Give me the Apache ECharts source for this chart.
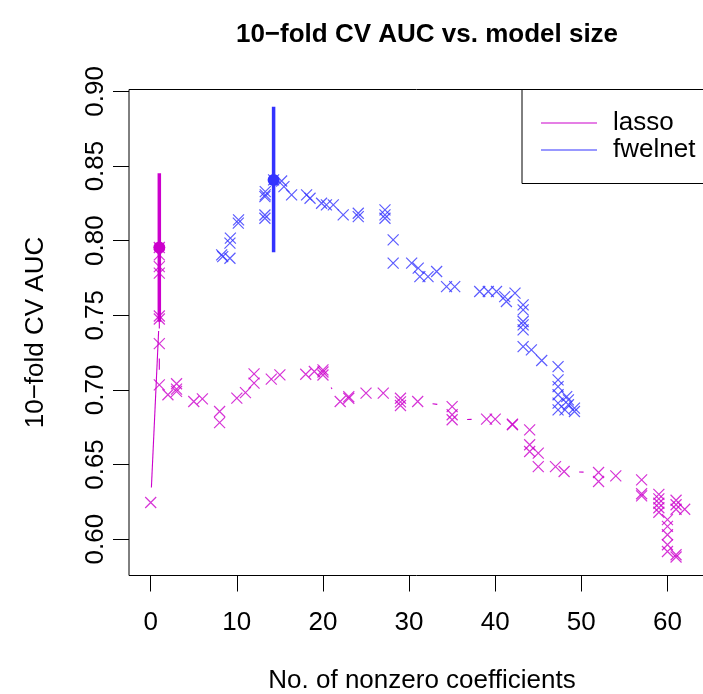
<!DOCTYPE html>
<html>
<head>
<meta charset="utf-8">
<script src="https://cdn.jsdelivr.net/npm/echarts@6/dist/echarts.min.js"></script>
<style>html,body{margin:0;padding:0;background:#fff}#c{width:703px;height:694px}</style>
</head>
<body>
<div id="c"></div>
<script>
const xTicks = [0, 10, 20, 30, 40, 50, 60];
const yTicks = [0.60, 0.65, 0.70, 0.75, 0.80, 0.85, 0.90];

const lassoX = [0, 1, 1, 1, 1, 1, 1, 1, 1, 2, 3, 3, 3, 5, 6, 8, 8, 10, 11, 12, 12, 14, 15, 18, 19, 20, 20, 20,
  22, 23, 23, 25, 27, 29, 29, 29, 31, 35, 35, 35, 39, 40, 42, 42, 44, 44, 44, 45, 45, 47, 48, 52, 52, 54, 57, 57, 57,
  59, 59, 59, 59, 59, 61, 61, 61, 62, 60, 60, 60, 60, 60, 61, 61];
const lassoY = [0.6245, 0.7495, 0.7475, 0.7782, 0.7826, 0.7905, 0.7954, 0.7310, 0.7034, 0.6967, 0.7041, 0.7005, 0.6990,
  0.6922, 0.6940, 0.6855, 0.6781, 0.6945, 0.6982, 0.7045, 0.7107, 0.7072, 0.7101, 0.7105, 0.7123, 0.7134, 0.7120, 0.7100,
  0.6922, 0.6955, 0.6944, 0.6978, 0.6978, 0.6944, 0.6920, 0.6895, 0.6922, 0.6888, 0.6833, 0.6800, 0.6804, 0.6804,
  0.6770, 0.6766, 0.6732, 0.6632, 0.6587, 0.6576, 0.6486, 0.6486, 0.6453, 0.6446, 0.6386, 0.6424, 0.6397, 0.6304, 0.6290,
  0.6300, 0.6270, 0.6240, 0.6210, 0.6180, 0.6260, 0.6230, 0.6200, 0.6200, 0.6130, 0.6085, 0.6029, 0.5962, 0.5917, 0.5895, 0.5880];

const fwelnetX = [8.24, 8.36, 9.2, 9.2, 9.25, 10.17, 10.2, 13.26, 13.26, 13.26, 13.3, 13.3, 14.27, 15.2, 15.47, 16.36,
  18.1, 18.5, 19.84, 20.4, 21.2, 22.35, 24.1, 24.1, 27.2, 27.2, 27.2, 28.15, 28.15, 30.3, 31.06, 31.25, 32.2, 33.2,
  34.35, 35.3, 38.2, 39.2, 40.15, 41.1, 41.3, 42.3, 43.24, 43.24, 43.24, 43.24, 43.24, 43.24, 44.2, 45.4,
  47.3, 47.3, 47.3, 47.3, 47.3, 47.3, 48.1, 48.3, 48.5, 48.5, 49.2, 49.2];
const fwelnetY = [0.7905, 0.7893, 0.7882, 0.7983, 0.8017, 0.8117, 0.8139, 0.8150, 0.8172, 0.8295, 0.8307, 0.8329,
  0.8407, 0.8400, 0.8362, 0.8307, 0.8307, 0.8284, 0.8251, 0.8240, 0.8240, 0.8173, 0.8184, 0.8161, 0.8206, 0.8173, 0.8150,
  0.8005, 0.7849, 0.7849, 0.7816, 0.7759, 0.7759, 0.7793, 0.7692, 0.7692, 0.7659, 0.7659, 0.7659, 0.7625, 0.7592, 0.7648,
  0.7570, 0.7536, 0.7458, 0.7436, 0.7402, 0.7290, 0.7268, 0.7197,
  0.7156, 0.7067, 0.7022, 0.6967, 0.6911, 0.6866, 0.6866, 0.6955, 0.6933, 0.6900, 0.6878, 0.6855];

// [x, lower, best, upper]
const lassoBest = [1, 0.7456, 0.7954, 0.8452];
const fwelnetBest = [14.27, 0.7923, 0.8407, 0.8898];

const seriesNames = ['lasso', 'fwelnet'];
const colLasso = '#cc00cc';
const colFw = '#3333ff';
const FONT = 'Liberation Sans, Arial, Helvetica, sans-serif';

function pairs(xs, ys) {
  const out = [];
  for (let i = 0; i < xs.length - 1; i++) out.push([xs[i], ys[i], xs[i + 1], ys[i + 1]]);
  return out;
}
function pts(xs, ys) { return xs.map((x, i) => [x, ys[i]]); }

const GAP = 15;
function segRender(color) {
  return function (params, api) {
    const p1 = api.coord([api.value(0), api.value(1)]);
    const p2 = api.coord([api.value(2), api.value(3)]);
    const dx = p2[0] - p1[0], dy = p2[1] - p1[1];
    const d = Math.sqrt(dx * dx + dy * dy);
    if (d <= 2 * GAP) return null;
    const ux = dx / d, uy = dy / d;
    return {
      type: 'line',
      shape: { x1: p1[0] + ux * GAP, y1: p1[1] + uy * GAP, x2: p2[0] - ux * GAP, y2: p2[1] - uy * GAP },
      style: { stroke: color, lineWidth: 1.1 }
    };
  };
}
function barRender(color) {
  return function (params, api) {
    const top = api.coord([api.value(0), api.value(3)]);
    const bot = api.coord([api.value(0), api.value(1)]);
    const mid = api.coord([api.value(0), api.value(2)]);
    return {
      type: 'group',
      children: [
        { type: 'line', shape: { x1: top[0], y1: top[1], x2: bot[0], y2: bot[1] }, style: { stroke: color, lineWidth: 3.5 } },
        { type: 'circle', shape: { cx: mid[0], cy: mid[1], r: 6 }, style: { fill: color } }
      ]
    };
  };
}

const crossSymbol = 'path://M0 0L10 10M10 0L0 10';

const chart = echarts.init(document.getElementById('c'), null, { renderer: 'canvas' });
chart.setOption({
  animation: false,
  backgroundColor: '#ffffff',
  title: {
    text: '10\u2212fold CV AUC vs. model size',
    left: 422, top: 17, textAlign: 'center',
    textStyle: { fontFamily: FONT, fontSize: 26, fontWeight: 'bold', color: '#000' }
  },
  grid: { left: 129, top: 89.5, width: 586, height: 486, show: true, borderColor: '#000', borderWidth: 1,
    backgroundColor: 'transparent', containLabel: false, outerBoundsMode: 'none' },
  xAxis: {
    type: 'value', min: -2.52, max: 65.52,
    name: 'No. of nonzero coefficients', nameLocation: 'middle', nameGap: 92,
    nameTextStyle: { fontFamily: FONT, fontSize: 26, color: '#000' },
    axisLine: { show: false, onZero: false },
    axisTick: { show: true, inside: false, length: 16, customValues: xTicks, lineStyle: { color: '#000', width: 1 } },
    axisLabel: { customValues: xTicks, margin: 34, fontFamily: FONT, fontSize: 26, color: '#000' },
    splitLine: { show: false }
  },
  yAxis: {
    type: 'value', min: 0.5756, max: 0.9013,
    name: '10\u2212fold CV AUC', nameLocation: 'middle', nameGap: 80, nameRotate: 90,
    nameTextStyle: { fontFamily: FONT, fontSize: 26, color: '#000' },
    axisLine: { show: false, onZero: false },
    axisTick: { show: true, inside: false, length: 16, customValues: yTicks, lineStyle: { color: '#000', width: 1 } },
    axisLabel: { customValues: yTicks, rotate: 90, margin: 20, fontFamily: FONT, fontSize: 26, color: '#000',
      formatter: v => v.toFixed(2) },
    splitLine: { show: false }
  },
  series: [
    { type: 'custom', name: 'lasso-lines', renderItem: segRender(colLasso), data: pairs(lassoX, lassoY),
      dimensions: ['x1', 'y1', 'x2', 'y2'], encode: { x: [0, 2], y: [1, 3] }, silent: true, z: 2 },
    { type: 'custom', name: 'fwelnet-lines', renderItem: segRender(colFw), data: pairs(fwelnetX, fwelnetY),
      dimensions: ['x1', 'y1', 'x2', 'y2'], encode: { x: [0, 2], y: [1, 3] }, silent: true, z: 2 },
    { type: 'scatter', name: seriesNames[0], data: pts(lassoX, lassoY), symbol: crossSymbol, symbolSize: 11,
      itemStyle: { color: 'none', borderColor: colLasso, borderWidth: 1.2 }, z: 3 },
    { type: 'scatter', name: seriesNames[1], data: pts(fwelnetX, fwelnetY), symbol: crossSymbol, symbolSize: 11,
      itemStyle: { color: 'none', borderColor: colFw, borderWidth: 1.2 }, z: 3 },
    { type: 'custom', name: 'lasso-best', renderItem: barRender(colLasso), data: [lassoBest],
      dimensions: ['x', 'lo', 'mid', 'hi'], encode: { x: 0, y: [1, 2, 3] }, z: 4 },
    { type: 'custom', name: 'fwelnet-best', renderItem: barRender(colFw), data: [fwelnetBest],
      dimensions: ['x', 'lo', 'mid', 'hi'], encode: { x: 0, y: [1, 2, 3] }, z: 4 }
  ],
  graphic: [
    { type: 'rect', shape: { x: 522, y: 89.5, width: 200, height: 94 }, style: { fill: '#fff', stroke: '#000', lineWidth: 1 }, z: 10 },
    { type: 'line', shape: { x1: 541, y1: 123, x2: 597, y2: 123 }, style: { stroke: colLasso, lineWidth: 1.2 }, z: 11 },
    { type: 'line', shape: { x1: 541, y1: 150, x2: 597, y2: 150 }, style: { stroke: colFw, lineWidth: 1.2 }, z: 11 },
    { type: 'text', x: 613, y: 123, style: { text: seriesNames[0], font: '26px ' + FONT, fill: '#000', textVerticalAlign: 'middle' }, z: 11 },
    { type: 'text', x: 613, y: 150, style: { text: seriesNames[1], font: '26px ' + FONT, fill: '#000', textVerticalAlign: 'middle' }, z: 11 }
  ]
});
</script>
</body>
</html>
